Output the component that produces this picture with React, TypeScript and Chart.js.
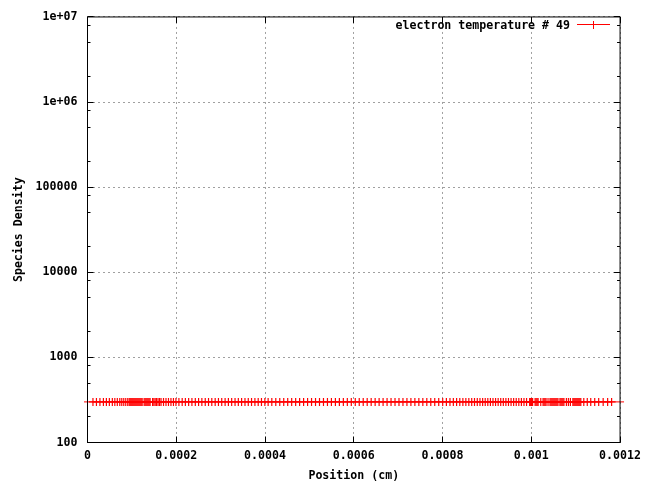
import { useEffect, useRef } from "react";
import { Chart, registerables } from "chart.js";

Chart.register(...registerables);

const seriesLabel = "electron temperature # 49";
const xAxisTitle = "Position (cm)";
const yAxisTitle = "Species Density";

const xTickValues = [0, 0.0002, 0.0004, 0.0006, 0.0008, 0.001, 0.0012];
const xTickLabels = ["0", "0.0002", "0.0004", "0.0006", "0.0008", "0.001", "0.0012"];
const yTickValues = [100, 1000, 10000, 100000, 1000000, 10000000];
const yTickLabels = ["100", "1000", "10000", "100000", "1e+06", "1e+07"];
const yMinorFactors = [2, 5, 8];

const xMin = 0;
const xMax = 0.0012;
const yMin = 100;
const yMax = 10000000;

// grid positions (cm)
const positionsCm = [
  -7.84e-6,
  12.31e-6, 20.15e-6, 27.99e-6, 35.82e-6, 42.54e-6, 49.25e-6, 55.97e-6, 61.57e-6, 67.16e-6, 72.76e-6,
  77.24e-6, 81.72e-6, 86.19e-6, 90.67e-6,
  94.03e-6, 96.27e-6, 98.51e-6, 100.75e-6, 102.98e-6, 105.22e-6, 107.46e-6, 109.7e-6, 111.94e-6,
  114.18e-6, 116.42e-6, 118.66e-6, 120.9e-6, 123.13e-6,
  127.61e-6, 129.85e-6, 132.09e-6, 134.33e-6, 136.57e-6, 138.81e-6, 141.04e-6,
  146.64e-6, 149.55e-6, 152.46e-6, 155.6e-6, 158.95e-6, 162.31e-6, 165.67e-6,
  171.27e-6, 176.87e-6, 182.46e-6, 188.06e-6, 193.66e-6, 199.25e-6,
  205.97e-6, 213.36e-6, 220.52e-6, 227.91e-6, 235.3e-6, 242.91e-6, 250.3e-6, 257.69e-6, 265.3e-6,
  272.69e-6, 280.07e-6, 287.69e-6, 295.07e-6, 302.46e-6, 310.07e-6, 317.46e-6, 324.85e-6, 332.46e-6,
  339.85e-6, 347.24e-6, 354.85e-6, 362.24e-6, 369.63e-6, 377.24e-6, 384.63e-6, 392.01e-6, 399.63e-6,
  407.01e-6,
  415.3e-6, 424.25e-6, 433.21e-6, 442.16e-6, 451.12e-6, 460.07e-6, 469.03e-6, 477.98e-6, 486.94e-6,
  495.89e-6, 504.85e-6, 513.8e-6, 522.76e-6, 531.71e-6, 540.67e-6, 549.63e-6, 558.58e-6, 567.54e-6,
  576.49e-6, 585.45e-6, 594.4e-6, 603.36e-6, 612.31e-6, 621.27e-6, 630.22e-6, 639.18e-6, 648.13e-6,
  657.09e-6, 666.04e-6, 675.0e-6, 683.95e-6, 692.91e-6, 701.86e-6, 710.82e-6, 719.77e-6, 728.73e-6,
  737.68e-6, 746.64e-6, 755.6e-6, 764.55e-6, 773.51e-6, 782.46e-6, 791.42e-6, 800.37e-6, 808.65e-6,
  816.71e-6, 824.33e-6, 831.71e-6,
  838.88e-6, 845.82e-6, 852.54e-6, 859.25e-6, 865.74e-6, 872.01e-6, 878.28e-6, 884.33e-6, 890.37e-6,
  896.19e-6, 902.01e-6, 907.83e-6, 913.66e-6, 919.48e-6, 925.3e-6, 931.12e-6, 936.94e-6, 942.76e-6,
  948.58e-6, 954.4e-6, 960.22e-6, 966.04e-6, 971.86e-6, 977.68e-6, 983.51e-6, 989.33e-6,
  996.27e-6, 998.5e-6, 1000.74e-6, 1002.98e-6, 1008.58e-6, 1010.82e-6, 1013.06e-6, 1015.3e-6,
  1021.34e-6, 1026.49e-6, 1028.73e-6, 1030.97e-6, 1033.21e-6, 1037.68e-6,
  1042.16e-6, 1044.4e-6, 1046.64e-6, 1048.88e-6, 1051.12e-6, 1053.36e-6, 1055.6e-6, 1057.84e-6, 1060.07e-6,
  1064.55e-6, 1066.79e-6, 1069.03e-6, 1071.27e-6, 1073.51e-6,
  1079.1e-6, 1083.58e-6, 1088.06e-6,
  1093.65e-6, 1095.89e-6, 1098.13e-6, 1100.37e-6, 1102.61e-6, 1104.85e-6, 1107.09e-6, 1109.33e-6, 1111.56e-6,
  1118.28e-6, 1126.12e-6, 1133.95e-6, 1142.91e-6, 1151.86e-6, 1161.94e-6, 1172.01e-6, 1180.97e-6,
  1210.07e-6,
];

// the series is flat at this level across the whole domain
const electronTemperature = 300;

const FONT_FAMILY = "'DejaVu Sans Mono', 'Liberation Mono', monospace";
const axisFont = { family: FONT_FAMILY, size: 11.6, weight: "bold" as const, lineHeight: 1.2 };
const RED = "#ff0000";

const framePlugin = {
  id: "gnuplotFrame",
  afterDatasetsDraw(chart: any) {
    const { ctx, chartArea: a, scales } = chart;
    const xs = scales.x;
    const ys = scales.y;
    ctx.save();
    ctx.strokeStyle = "#000";
    ctx.lineWidth = 1;
    ctx.beginPath();
    for (const v of xTickValues) {
      const px = Math.round(xs.getPixelForValue(v) - 0.5) + 0.5;
      ctx.moveTo(px, a.bottom);
      ctx.lineTo(px, a.bottom - 6);
      ctx.moveTo(px, a.top);
      ctx.lineTo(px, a.top + 6);
    }
    for (const v of yTickValues) {
      const py = Math.round(ys.getPixelForValue(v) - 0.5) + 0.5;
      ctx.moveTo(a.left, py);
      ctx.lineTo(a.left + 6, py);
      ctx.moveTo(a.right, py);
      ctx.lineTo(a.right - 6, py);
    }
    for (let i = 0; i < yTickValues.length - 1; i++) {
      for (const f of yMinorFactors) {
        const py = Math.round(ys.getPixelForValue(yTickValues[i] * f) - 0.5) + 0.5;
        ctx.moveTo(a.left, py);
        ctx.lineTo(a.left + 3, py);
        ctx.moveTo(a.right, py);
        ctx.lineTo(a.right - 3, py);
      }
    }
    ctx.stroke();
    ctx.strokeRect(a.left, a.top, a.right - a.left, a.bottom - a.top);

    // key in the top-right corner
    ctx.font = `bold ${axisFont.size}px ${FONT_FAMILY}`;
    ctx.fillStyle = "#000";
    ctx.textAlign = "right";
    ctx.textBaseline = "middle";
    ctx.fillText(seriesLabel, 570, 25.5);
    ctx.strokeStyle = RED;
    ctx.beginPath();
    ctx.moveTo(577, 24.5);
    ctx.lineTo(610, 24.5);
    ctx.moveTo(593.5, 21);
    ctx.lineTo(593.5, 29);
    ctx.stroke();
    ctx.restore();
  },
};

export default function App() {
  const canvasRef = useRef<HTMLCanvasElement | null>(null);

  useEffect(() => {
    const canvas = canvasRef.current;
    if (!canvas) return;
    const chart = new Chart(canvas, {
      type: "scatter",
      data: {
        datasets: [
          {
            label: seriesLabel,
            data: positionsCm.map((x) => ({ x, y: electronTemperature })),
            showLine: true,
            borderColor: RED,
            borderWidth: 1,
            backgroundColor: RED,
            pointStyle: "cross",
            pointRadius: positionsCm.map((x) => (x >= xMin && x <= xMax ? 4 : 0)),
            pointHoverRadius: 4,
            pointBorderColor: RED,
            pointBorderWidth: 1.2,
            clip: { left: 5, right: 4, top: 0, bottom: 0 },
          } as any,
        ],
      },
      options: {
        animation: false,
        responsive: false,
        events: [],
        layout: { padding: { left: 0, right: 24.5, top: 14.5, bottom: 0 } },
        plugins: {
          legend: { display: false },
          tooltip: { enabled: false },
          title: { display: false },
        },
        scales: {
          x: {
            type: "linear",
            position: "bottom",
            min: xMin,
            max: xMax,
            afterFit: (s: any) => {
              s.height = 40.5;
            },
            afterBuildTicks: (s: any) => {
              s.ticks = xTickValues.map((value) => ({ value }));
            },
            ticks: {
              autoSkip: false,
              maxRotation: 0,
              padding: 7,
              color: "#000",
              font: axisFont,
              callback: (_v: any, i: number) => xTickLabels[i],
            },
            grid: { color: "#a0a0a0", lineWidth: 1, drawTicks: false },
            border: { display: false, dash: [2, 3] },
            title: {
              display: true,
              text: xAxisTitle,
              color: "#000",
              font: axisFont,
              padding: { top: 0, bottom: 0 },
            },
          },
          y: {
            type: "logarithmic",
            position: "left",
            min: yMin,
            max: yMax,
            afterFit: (s: any) => {
              s.width = 87.5;
            },
            afterBuildTicks: (s: any) => {
              s.ticks = yTickValues.map((value) => ({ value }));
            },
            ticks: {
              autoSkip: false,
              padding: 10,
              color: "#000",
              font: axisFont,
              callback: (_v: any, i: number) => yTickLabels[i],
            },
            grid: { color: "#a0a0a0", lineWidth: 1, drawTicks: false },
            border: { display: false, dash: [2, 3] },
            title: {
              display: true,
              text: yAxisTitle,
              color: "#000",
              font: axisFont,
              padding: { top: 12, bottom: 0 },
            },
          },
        },
      },
      plugins: [framePlugin],
    } as any);
    return () => chart.destroy();
  }, []);

  return (
    <div style={{ position: "absolute", left: 0, top: 0, width: 648, height: 483, background: "#fff" }}>
      <canvas ref={canvasRef} width={648} height={483} style={{ display: "block" }} />
    </div>
  );
}
